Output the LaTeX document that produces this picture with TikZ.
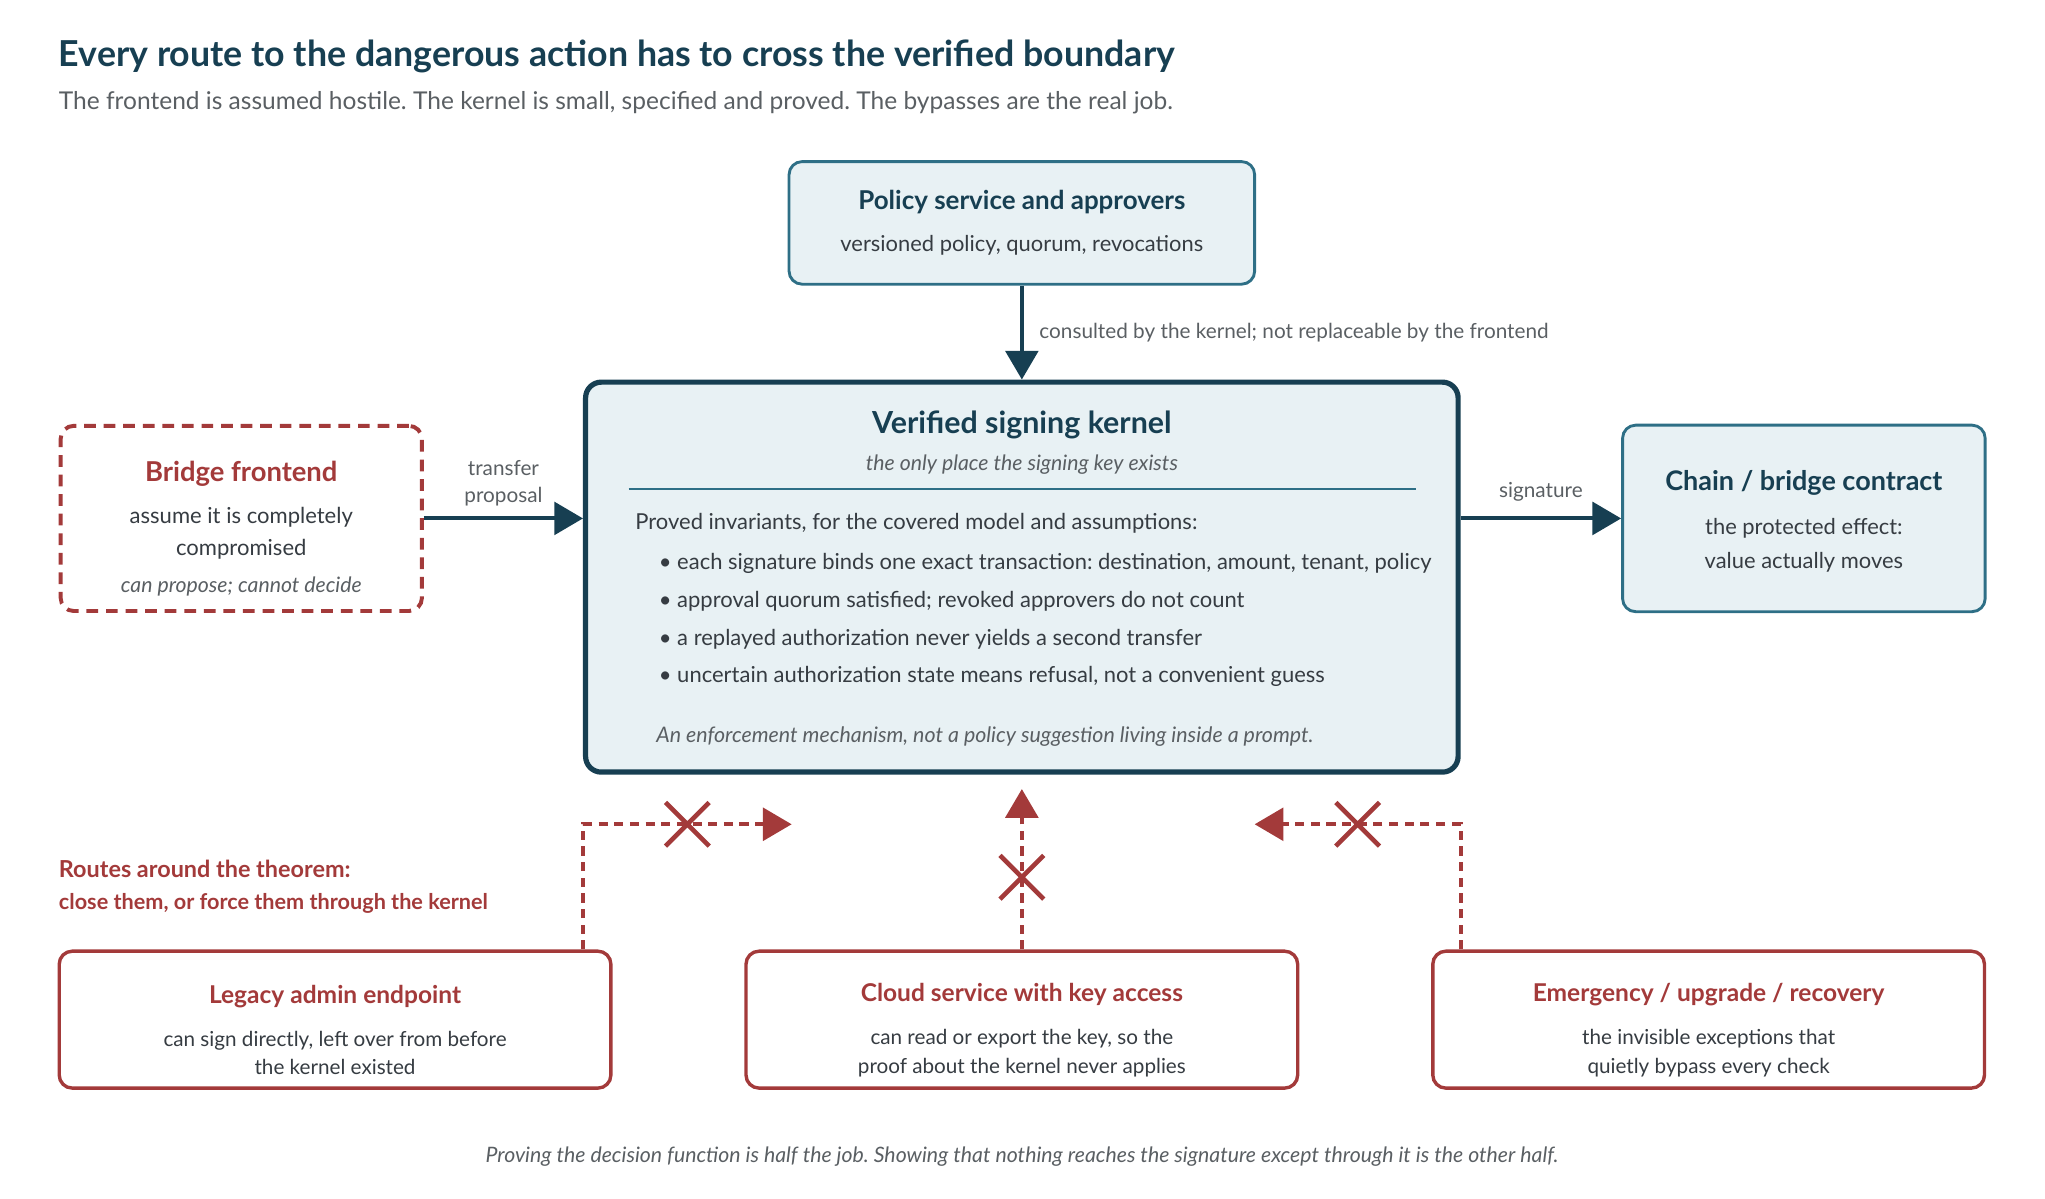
\documentclass[tikz,border=0pt]{standalone}
\usepackage{fontspec}
\setmainfont{Lato}
\usetikzlibrary{positioning,arrows.meta,shapes.misc}
\frenchspacing

\definecolor{navy}{HTML}{173F52}
\definecolor{tealline}{HTML}{2E6F86}
\definecolor{boxfill}{HTML}{E8F1F4}
\definecolor{routered}{HTML}{A33A3A}
\definecolor{bodytext}{HTML}{363C42}
\definecolor{notegray}{HTML}{5A5F63}

\begin{document}
\begin{tikzpicture}[x=1pt, y=-1pt]
    \useasboundingbox (0,0) rectangle (1568,918.6);

    % Define styles
    \tikzstyle{safe} = [rectangle, rounded corners=10pt, draw=tealline, line width=2.2pt, fill=boxfill, align=center, text=bodytext, font=\fontsize{16.8}{26}\selectfont]
    \tikzstyle{core} = [rectangle, rounded corners=12pt, draw=navy, line width=4pt, fill=boxfill, minimum width=669pt, minimum height=299pt]
    \tikzstyle{hostile} = [rectangle, rounded corners=10pt, draw=routered, line width=3pt, dash pattern=on 9pt off 6pt, fill=white, align=center, text=bodytext, minimum width=277pt, minimum height=142pt, font=\fontsize{16.9}{25}\selectfont]
    \tikzstyle{bypass} = [rectangle, rounded corners=10pt, draw=routered, line width=2.6pt, fill=white, align=center, text=bodytext, minimum width=423pt, minimum height=105pt, font=\fontsize{15.85}{22}\selectfont]
    \tikzstyle{arrow} = [line width=3pt, draw=navy, ->, >={Triangle[length=22pt, width=25pt]}]
    \tikzstyle{route} = [line width=3pt, draw=routered, dash pattern=on 7pt off 5pt, ->, >={Triangle[length=22pt, width=25pt]}]
    \tikzstyle{xmark} = [cross out, solid, draw=routered, line width=3.5pt, minimum size=30pt, inner sep=0pt]
    \tikzstyle{edgelabel} = [text=notegray, font=\fontsize{15.9}{21}\selectfont, align=center, inner sep=0pt]

    % Heading
    \node (headline) [anchor=base west, inner sep=0pt, text=navy, font=\fontsize{27.4}{30}\selectfont\bfseries] at (45,51) {Every route to the dangerous action has to cross the verified boundary};
    \node (subline) [anchor=base west, inner sep=0pt, text=notegray, font=\fontsize{18.8}{22}\selectfont] at (45,84) {The frontend is assumed hostile. The kernel is small, specified and proved. The bypasses are the real job.};

    % Kernel and its neighbours
    \node (kernel) [core] at (783.5,442.5) {};
    \node (policy) [safe, minimum width=357pt, minimum height=94pt, above=72pt of kernel] {\textbf{\fontsize{19.9}{22}\selectfont\color{navy}Policy service and approvers}\\[6pt] versioned policy, quorum, revocations};
    \node (frontend) [hostile, left=122pt of kernel.west, yshift=45pt] {\rule{0pt}{31pt}\textbf{\fontsize{21}{22}\selectfont\color{routered}Bridge frontend}\\[7pt] assume it is completely\\ compromised\\[3pt] {\color{notegray}\itshape\fontsize{16.3}{18}\selectfont can propose; cannot decide}};
    \node (chain) [safe, minimum width=278pt, minimum height=143pt, right=123pt of kernel.east, yshift=45pt] {\rule{0pt}{20pt}\textbf{\fontsize{20.7}{22}\selectfont\color{navy}Chain / bridge contract}\\[8pt] the protected effect:\\ value actually moves};

    % Inside the kernel
    \node (kname) [text=navy, font=\fontsize{23.3}{26}\selectfont\bfseries, inner sep=0pt] at ([yshift=-35pt]kernel.north) {Verified signing kernel};
    \node (knote) [text=notegray, font=\fontsize{16.3}{19}\selectfont\itshape, inner sep=0pt] at ([yshift=-65pt]kernel.north) {the only place the signing key exists};
    \draw [tealline, line width=1.5pt] ([xshift=35pt,yshift=-84pt]kernel.north west) -- ([xshift=-34pt,yshift=-84pt]kernel.north east);
    \node (invariants) [anchor=north west, align=left, text=bodytext, font=\fontsize{16.85}{29}\selectfont, inner sep=0pt] at ([xshift=40pt,yshift=-102pt]kernel.north west) {Proved invariants, for the covered model and assumptions:\\[2pt]
        \hspace*{18pt}\textbullet\ each signature binds one exact transaction: destination, amount, tenant, policy\\
        \hspace*{18pt}\textbullet\ approval quorum satisfied; revoked approvers do not count\\
        \hspace*{18pt}\textbullet\ a replayed authorization never yields a second transfer\\
        \hspace*{18pt}\textbullet\ uncertain authorization state means refusal, not a convenient guess};
    \node (kfoot) [anchor=west, text=notegray, font=\fontsize{16.4}{19}\selectfont\itshape, inner sep=0pt] at ([xshift=56pt,yshift=29pt]kernel.south west) {An enforcement mechanism, not a policy suggestion living inside a prompt.};

    % Bypass routes
    \node (cloud) [bypass, below=134pt of kernel] {\rule{0pt}{30pt}\textbf{\fontsize{18.8}{22}\selectfont\color{routered}Cloud service with key access}\\[11pt] can read or export the key, so the\\ proof about the kernel never applies};
    \node (legacy) [bypass, left=101pt of cloud] {\rule{0pt}{30pt}\textbf{\fontsize{18.8}{22}\selectfont\color{routered}Legacy admin endpoint}\\[11pt] can sign directly, left over from before\\ the kernel existed};
    \node (emergency) [bypass, right=101pt of cloud] {\rule{0pt}{30pt}\textbf{\fontsize{18.8}{22}\selectfont\color{routered}Emergency / upgrade / recovery}\\[11pt] the invisible exceptions that\\ quietly bypass every check};
    \node (routes) [anchor=north west, align=left, text=routered, font=\fontsize{16.6}{25}\selectfont\bfseries, inner sep=0pt] at (45,659) {{\fontsize{17.95}{25}\selectfont Routes around the theorem:}\\ close them, or force them through the kernel};

    \coordinate (legacyend) at ([xshift=160pt,yshift=-38pt]kernel.south west);
    \coordinate (cloudend) at ([yshift=-11pt]kernel.south);
    \coordinate (emergencyend) at ([xshift=-158pt,yshift=-38pt]kernel.south east);

    % Arrows
    \draw [arrow] (policy) -- (kernel) node [edgelabel, midway, right=12pt] {consulted by the kernel; not replaceable by the frontend};
    \draw [arrow] (frontend) -- (frontend -| kernel.west) node [edgelabel, midway, above=8pt] {transfer\\proposal};
    \draw [arrow] (kernel.east |- chain) -- (chain) node [edgelabel, midway, above=12pt] {signature};
    \draw [route] (legacy.north -| kernel.west) |- (legacyend) node [xmark, pos=0.75] {};
    \draw [route] (cloud) -- (cloudend) node [xmark, pos=0.45] {};
    \draw [route] (emergency.north -| kernel.east) |- (emergencyend) node [xmark, pos=0.75] {};

    % Closing note
    \node (closing) [anchor=base, inner sep=0pt, text=notegray, font=\fontsize{16.3}{19}\selectfont\itshape] at (783.5,891) {Proving the decision function is half the job. Showing that nothing reaches the signature except through it is the other half.};
\end{tikzpicture}
\end{document}
